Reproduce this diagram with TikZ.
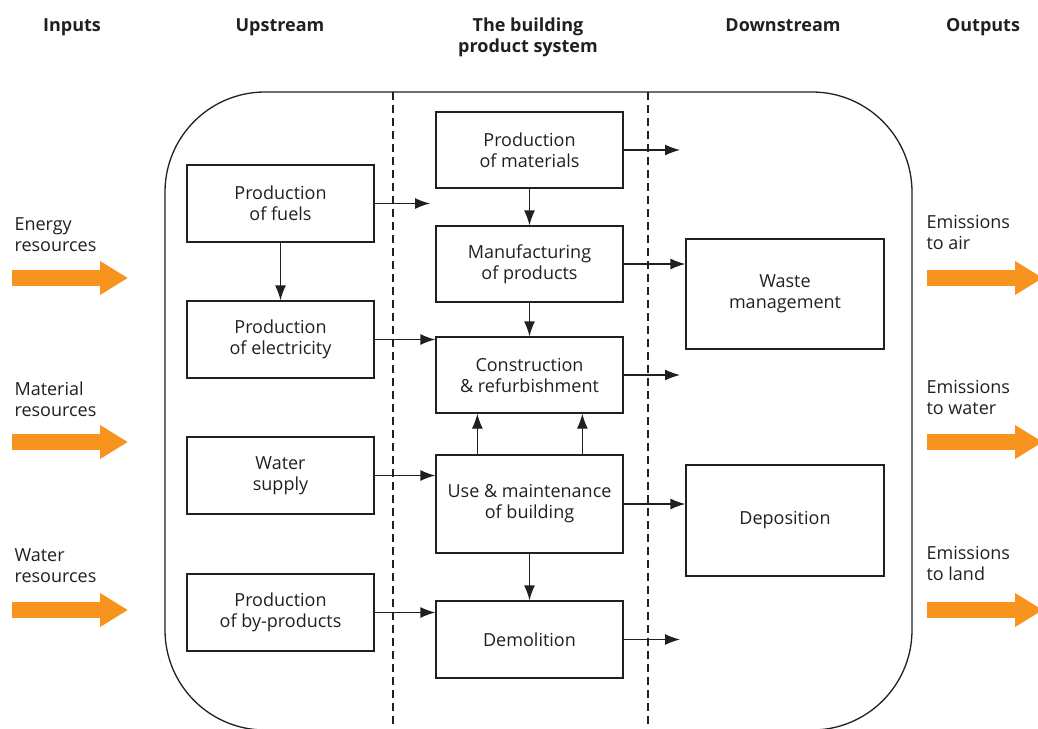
\documentclass[tikz,border=0pt]{standalone}
\usepackage{fontspec}
\setmainfont{Open Sans}
\usetikzlibrary{arrows.meta, calc}
\definecolor{ink}{RGB}{35,31,32}
\definecolor{flow}{RGB}{247,148,29}

\tikzset{
  box/.style={draw=ink, line width=1.3pt, minimum width=187pt, minimum height=77pt,
    align=center, inner sep=2pt, text=ink, font=\fontsize{18}{21}\selectfont},
  link/.style={draw=ink, line width=1.3pt, -{Latex[length=15pt, width=11pt]}},
  head/.style={text=ink, align=center, font=\fontsize{18}{21}\selectfont\bfseries},
  side/.style={text=ink, align=left, anchor=west, font=\fontsize{18}{21}\selectfont},
  bigflow/.style={draw=flow, line width=16pt, -{Triangle[length=28pt, width=32pt]}},
  stage/.style={draw=ink, line width=1.1pt, dash pattern=on 8pt off 5pt}
}

\begin{document}
\begin{tikzpicture}[x=1pt, y=-1pt]
    \clip (0,0) rectangle (1038,728);

    % headings
    \node[head, anchor=base] (hin)   at (72,31)  {Inputs};
    \node[head, anchor=base] (hup)   at (280,31) {Upstream};
    \node[head] (hsys)  at (528,37) {The building\\product system};
    \node[head, anchor=base] (hdown) at (783,31) {Downstream};
    \node[head, anchor=base] (hout)  at (983,31) {Outputs};

    % system boundary and stage limits
    \draw[ink, line width=1.3pt, rounded corners=100pt] (165,92) rectangle (912,730);
    \draw[stage] (393,92) -- (393,728);
    \draw[stage] (648,92) -- (648,728);

    % upstream
    \node[box] (fuels)  at (280.5,203.5) {Production\\of fuels};
    \node[box] (elec)   at (280.5,339.5) {Production\\of electricity};
    \node[box] (water)  at (280.5,475.5) {Water\\supply};
    \node[box] (byprod) at (280.5,612.5) {Production\\of by-products};

    % building product system
    \node[box, minimum height=76pt] (mat)    at (529.5,150) {Production\\of materials};
    \node[box, minimum height=76pt] (manu)   at (529.5,264) {Manufacturing\\of products};
    \node[box, minimum height=76pt] (constr) at (529.5,375) {Construction\\\& refurbishment};
    \node[box, minimum height=98pt] (use)    at (529.5,504) {Use \& maintenance\\of building};
    \node[box] (demol)  at (529.5,639.5) {Demolition};

    % downstream
    \node[box, minimum width=198pt, minimum height=110pt] (waste) at (785,294) {Waste\\management};
    \node[box, minimum width=198pt, minimum height=111pt] (depo)  at (785,520.5) {Deposition};

    \coordinate (upx) at (430,0);
    \coordinate (dsx) at (680,0);

    \draw[link] (fuels.east) -- (fuels.east -| upx);
    \draw[link] (fuels) -- (elec);
    \draw[link] (elec.east) -- (elec.east -| constr.west);
    \draw[link] (water.east) -- (water.east -| use.west);
    \draw[link] (byprod.east) -- (byprod.east -| demol.west);

    \draw[link] (mat) -- (manu);
    \draw[link] (manu) -- (constr);
    \draw[link] (use) -- (demol);
    \draw[link] ([xshift=42pt]use.north west) -- ([xshift=42pt]constr.south west);
    \draw[link] ([xshift=147pt]use.north west) -- ([xshift=147pt]constr.south west);

    \draw[link] (mat.east) -- (mat.east -| dsx);
    \draw[link] (manu.east) -- (manu.east -| waste.west);
    \draw[link] (constr.east) -- (constr.east -| dsx);
    \draw[link] (use.east) -- (use.east -| depo.west);
    \draw[link] (demol.east) -- (demol.east -| dsx);

    % inputs and outputs
    \node[side] (energy) at (11,235) {Energy\\resources};
    \node[side] (matres) at (11,399) {Material\\resources};
    \node[side] (watres) at (11,566) {Water\\resources};
    \node[side] (air)    at (923,232) {Emissions\\to air};
    \node[side] (wat)    at (923,397) {Emissions\\to water};
    \node[side] (land)   at (923,563) {Emissions\\to land};

    \foreach \y in {278,442,610} {
        \draw[bigflow] (12,\y) -- (128,\y);
        \draw[bigflow] (927,\y) -- (1043,\y);
    }
\end{tikzpicture}
\end{document}
